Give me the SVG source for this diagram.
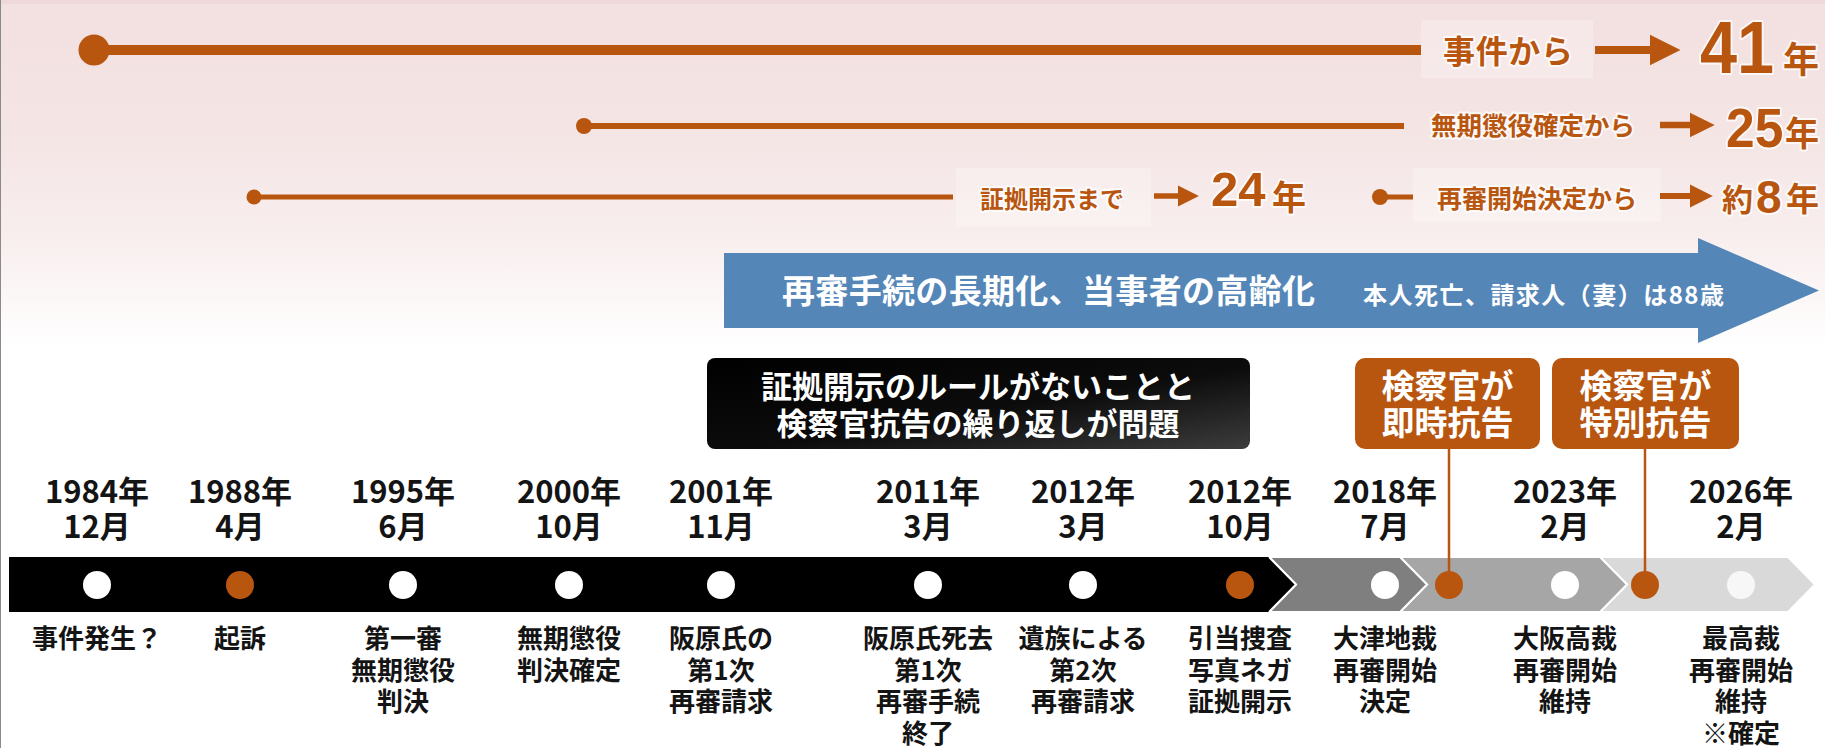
<svg xmlns="http://www.w3.org/2000/svg" width="1825" height="748" viewBox="0 0 1825 748">
<defs>
<linearGradient id="bg" x1="0" y1="0" x2="0" y2="350" gradientUnits="userSpaceOnUse">
<stop offset="0" stop-color="#f3e0e0"/>
<stop offset="0.35" stop-color="#f4e4e4"/>
<stop offset="0.66" stop-color="#f8eded"/>
<stop offset="1" stop-color="#ffffff"/>
</linearGradient>
<linearGradient id="blk" x1="0" y1="0" x2="1" y2="1">
<stop offset="0" stop-color="#000000"/>
<stop offset="0.55" stop-color="#0c0c0c"/>
<stop offset="1" stop-color="#3c3c3c"/>
</linearGradient>
<marker id="ah" viewBox="0 0 10 10" refX="0" refY="5" markerWidth="3.8" markerHeight="4" orient="auto" markerUnits="strokeWidth">
<path d="M0,0 L10,5 L0,10 z" fill="#b8560f"/>
</marker>
</defs>
<style>
text{font-family:"Noto Sans CJK JP","Noto Sans CJK SC",sans-serif;font-weight:700}
.num{font-family:"Liberation Sans",Arial,sans-serif;font-weight:700}
.or{fill:#b8560f}
.glow{stroke:#ffffff;stroke-opacity:0.75;stroke-width:4;stroke-linejoin:round;paint-order:stroke}
.dur{stroke:#b8560f;fill:none}
.lbl{font-size:26px;fill:#141414;text-anchor:middle}
.yr{font-size:31px;fill:#141414;text-anchor:middle}
.wt{fill:#ffffff;text-anchor:middle}
.dw{fill:#ffffff}
.do{fill:#b8560f}
.box{fill:#ffffff;fill-opacity:0.25}
</style>
<rect x="0" y="0" width="1825" height="748" fill="#ffffff"/>
<rect x="0" y="0" width="1825" height="350" fill="url(#bg)"/>
<rect x="0" y="0" width="1825" height="4" fill="#eed8d9"/>
<line x1="0.5" y1="0" x2="0.5" y2="748" stroke="#8a8a8a" stroke-width="1"/>

<g id="durations">
<g id="dur-41">
<rect class="box" x="1421" y="20" width="172" height="58"/>
<circle class="do" cx="94" cy="50" r="15.5"/>
<line class="dur" x1="94" y1="50" x2="1421" y2="50" stroke-width="10"/>
<text class="or glow" x="1443" y="63" font-size="32" textLength="130">事件から</text>
<line class="dur" x1="1595" y1="50" x2="1650" y2="50" stroke-width="8" marker-end="url(#ah)"/>
<text class="or glow num" transform="translate(1700,73) scale(0.9,1)" x="0" y="0" font-size="74">41</text>
<text class="or glow" x="1783" y="73" font-size="36">年</text>
</g>
<g id="dur-25">
<circle class="do" cx="584" cy="126" r="8"/>
<line class="dur" x1="584" y1="126" x2="1404" y2="126" stroke-width="6"/>
<text class="or glow" x="1431" y="135" font-size="25.5" textLength="204">無期懲役確定から</text>
<line class="dur" x1="1660" y1="125" x2="1690" y2="125" stroke-width="6.5" marker-end="url(#ah)"/>
<text class="or glow num" transform="translate(1726,147) scale(0.92,1)" x="0" y="0" font-size="56">25</text>
<text class="or glow" x="1785" y="146" font-size="34">年</text>
</g>
<g id="dur-24">
<rect class="box" x="956" y="168" width="195" height="59"/>
<circle class="do" cx="254" cy="197" r="7.5"/>
<line class="dur" x1="254" y1="197" x2="953" y2="197" stroke-width="5"/>
<text class="or glow" x="980" y="208" font-size="24" textLength="144">証拠開示まで</text>
<line class="dur" x1="1154" y1="196" x2="1178" y2="196" stroke-width="5.5" marker-end="url(#ah)"/>
<text class="or glow num" x="1211" y="206" font-size="49">24</text>
<text class="or glow" x="1272" y="210" font-size="34">年</text>
</g>
<g id="dur-8">
<rect class="box" x="1413" y="168" width="248" height="54"/>
<circle class="do" cx="1380" cy="197" r="8"/>
<line class="dur" x1="1380" y1="197" x2="1413" y2="197" stroke-width="5"/>
<text class="or glow" x="1437" y="208" font-size="25" textLength="200">再審開始決定から</text>
<line class="dur" x1="1660" y1="196" x2="1690" y2="196" stroke-width="6" marker-end="url(#ah)"/>
<text class="or glow" x="1722" y="211" font-size="31">約</text>
<text class="or glow num" x="1756" y="213" font-size="46">8</text>
<text class="or glow" x="1786" y="211" font-size="33">年</text>
</g>
</g>

<g id="long-arrow">
<polygon points="724,253 1698,253 1698,238 1819,290.5 1698,343 1698,328 724,328" fill="#5586b8"/>
<text x="782" y="303" font-size="33" fill="#ffffff" textLength="533">再審手続の長期化、当事者の高齢化</text>
<text x="1363" y="304" font-size="24" fill="#ffffff" font-weight="400" textLength="361">本人死亡、請求人（妻）は88歳</text>
</g>

<g id="problem-box">
<rect x="707" y="358" width="543" height="91" rx="8" fill="url(#blk)"/>
<text class="wt" x="978" y="398" font-size="31"><tspan x="978">証拠開示のルールがないことと</tspan><tspan x="978" dy="37">検察官抗告の繰り返しが問題</tspan></text>
</g>

<g id="appeal-1">
<rect x="1355" y="358" width="185" height="91" rx="10" fill="#b8560f"/>
<text class="wt" x="1447.5" y="398" font-size="33"><tspan x="1447.5">検察官が</tspan><tspan x="1447.5" dy="37">即時抗告</tspan></text>
</g>
<g id="appeal-2">
<rect x="1552" y="358" width="187" height="91" rx="10" fill="#b8560f"/>
<text class="wt" x="1645.5" y="398" font-size="33"><tspan x="1645.5">検察官が</tspan><tspan x="1645.5" dy="37">特別抗告</tspan></text>
</g>

<g id="timeline-bar">
<polygon points="1600,557 1788,557 1815,584.5 1788,612 1600,612 1627,584.5" fill="#d9d9d9" stroke="#ffffff" stroke-width="2"/>
<polygon points="1400,557 1600,557 1627,584.5 1600,612 1400,612 1427,584.5" fill="#a6a6a6" stroke="#ffffff" stroke-width="2"/>
<polygon points="1269,557 1400,557 1427,584.5 1400,612 1269,612 1296,584.5" fill="#7f7f7f" stroke="#ffffff" stroke-width="2"/>
<polygon points="9,557 1269,557 1296,584.5 1269,612 9,612" fill="#000000"/>
<line x1="1269" y1="557" x2="1296" y2="584.5" stroke="#ffffff" stroke-width="2"/>
<line x1="1296" y1="584.5" x2="1269" y2="612" stroke="#ffffff" stroke-width="2"/>
</g>

<g id="connectors">
<line x1="1449" y1="449" x2="1449" y2="585" stroke="#b8560f" stroke-width="2.5"/>
<line x1="1645" y1="449" x2="1645" y2="585" stroke="#b8560f" stroke-width="2.5"/>
</g>

<g id="ev1"><circle class="dw" cx="97" cy="585" r="14"/>
<text class="yr" x="97" y="503"><tspan x="97">1984年</tspan><tspan x="97" dy="35">12月</tspan></text>
<text class="lbl" x="97" y="648">事件発生？</text></g>
<g id="ev2"><circle class="do" cx="240" cy="585" r="14"/>
<text class="yr" x="240" y="503"><tspan x="240">1988年</tspan><tspan x="240" dy="35">4月</tspan></text>
<text class="lbl" x="240" y="648">起訴</text></g>
<g id="ev3"><circle class="dw" cx="403" cy="585" r="14"/>
<text class="yr" x="403" y="503"><tspan x="403">1995年</tspan><tspan x="403" dy="35">6月</tspan></text>
<text class="lbl" x="403" y="648"><tspan x="403">第一審</tspan><tspan x="403" dy="32">無期懲役</tspan><tspan x="403" dy="31">判決</tspan></text></g>
<g id="ev4"><circle class="dw" cx="569" cy="585" r="14"/>
<text class="yr" x="569" y="503"><tspan x="569">2000年</tspan><tspan x="569" dy="35">10月</tspan></text>
<text class="lbl" x="569" y="648"><tspan x="569">無期懲役</tspan><tspan x="569" dy="32">判決確定</tspan></text></g>
<g id="ev5"><circle class="dw" cx="721" cy="585" r="14"/>
<text class="yr" x="721" y="503"><tspan x="721">2001年</tspan><tspan x="721" dy="35">11月</tspan></text>
<text class="lbl" x="721" y="648"><tspan x="721">阪原氏の</tspan><tspan x="721" dy="32">第1次</tspan><tspan x="721" dy="31">再審請求</tspan></text></g>
<g id="ev6"><circle class="dw" cx="928" cy="585" r="14"/>
<text class="yr" x="928" y="503"><tspan x="928">2011年</tspan><tspan x="928" dy="35">3月</tspan></text>
<text class="lbl" x="928" y="648"><tspan x="928">阪原氏死去</tspan><tspan x="928" dy="32">第1次</tspan><tspan x="928" dy="31">再審手続</tspan><tspan x="928" dy="32">終了</tspan></text></g>
<g id="ev7"><circle class="dw" cx="1083" cy="585" r="14"/>
<text class="yr" x="1083" y="503"><tspan x="1083">2012年</tspan><tspan x="1083" dy="35">3月</tspan></text>
<text class="lbl" x="1083" y="648"><tspan x="1083">遺族による</tspan><tspan x="1083" dy="32">第2次</tspan><tspan x="1083" dy="31">再審請求</tspan></text></g>
<g id="ev8"><circle class="do" cx="1240" cy="585" r="14"/>
<text class="yr" x="1240" y="503"><tspan x="1240">2012年</tspan><tspan x="1240" dy="35">10月</tspan></text>
<text class="lbl" x="1240" y="648"><tspan x="1240">引当捜査</tspan><tspan x="1240" dy="32">写真ネガ</tspan><tspan x="1240" dy="31">証拠開示</tspan></text></g>
<g id="ev9"><circle class="dw" cx="1385" cy="585" r="14"/>
<text class="yr" x="1385" y="503"><tspan x="1385">2018年</tspan><tspan x="1385" dy="35">7月</tspan></text>
<text class="lbl" x="1385" y="648"><tspan x="1385">大津地裁</tspan><tspan x="1385" dy="32">再審開始</tspan><tspan x="1385" dy="31">決定</tspan></text></g>
<g id="ev10"><circle class="do" cx="1449" cy="585" r="14"/></g>
<g id="ev11"><circle class="dw" cx="1565" cy="585" r="14"/>
<text class="yr" x="1565" y="503"><tspan x="1565">2023年</tspan><tspan x="1565" dy="35">2月</tspan></text>
<text class="lbl" x="1565" y="648"><tspan x="1565">大阪高裁</tspan><tspan x="1565" dy="32">再審開始</tspan><tspan x="1565" dy="31">維持</tspan></text></g>
<g id="ev12"><circle class="do" cx="1645" cy="585" r="14"/></g>
<g id="ev13"><circle cx="1741" cy="585" r="14" fill="#f7f7f7"/>
<text class="yr" x="1741" y="503"><tspan x="1741">2026年</tspan><tspan x="1741" dy="35">2月</tspan></text>
<text class="lbl or" x="1741" y="648"><tspan x="1741">最高裁</tspan><tspan x="1741" dy="32">再審開始</tspan><tspan x="1741" dy="31">維持</tspan><tspan x="1741" dy="32">※確定</tspan></text></g>
</svg>
